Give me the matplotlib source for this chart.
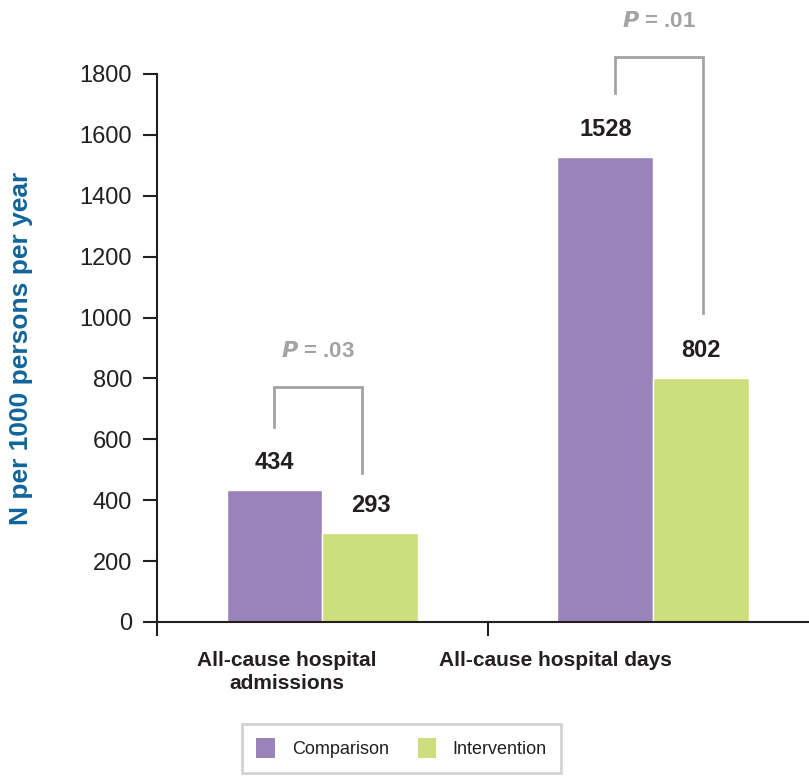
import numpy as np
import matplotlib
matplotlib.use('Agg')
import matplotlib.pyplot as plt
from matplotlib.patches import Patch

plt.rcParams['font.family'] = ['Liberation Sans', 'DejaVu Sans']

categories = ['All-cause hospital\nadmissions', 'All-cause hospital days']
series = ['Comparison', 'Intervention']
comparison = [434, 1528]
intervention = [293, 802]
p_labels = ['.03', '.01']
yticks = [0, 200, 400, 600, 800, 1000, 1200, 1400, 1600, 1800]

purple = '#9a82bb'
green = '#cddf7c'
gray = '#a3a3a3'
dark = '#231f20'
blue = '#11659b'

fig = plt.figure(figsize=(8.09, 7.77), dpi=100)
ax = fig.add_axes([157 / 809, 1 - 622 / 777, 1 - 157 / 809, (622 - 74) / 777])

x = np.arange(len(categories))
w = 0.29
ax.bar(x - w / 2, comparison, w, color=purple, edgecolor='white', linewidth=1)
ax.bar(x + w / 2, intervention, w, color=green, edgecolor='white', linewidth=1)

ax.set_ylim(0, 1800)
ax.set_xlim(-0.5, 1.47)
ax.set_yticks(yticks)
ax.set_yticklabels([str(t) for t in yticks], fontsize=17, color=dark)
ax.set_xticks([-0.5, 0.5])
ax.set_xticklabels([])
ax.tick_params(axis='both', direction='out', length=10, width=1.5, color=dark)
ax.tick_params(axis='y', pad=8)
for s in ['top', 'right']:
    ax.spines[s].set_visible(False)
for s in ['left', 'bottom']:
    ax.spines[s].set_linewidth(1.5)
    ax.spines[s].set_color(dark)

ax.set_ylabel('N per 1000 persons per year', fontsize=19, fontweight='bold', color=blue)
ax.yaxis.set_label_coords(-0.19, 0.5)

# value labels
for i in range(len(categories)):
    ax.text(x[i] - w / 2, comparison[i] + 90, str(comparison[i]), ha='center', va='center',
            fontsize=17, fontweight='bold', color=dark)
    ax.text(x[i] + w / 2, intervention[i] + 90, str(intervention[i]), ha='center', va='center',
            fontsize=17, fontweight='bold', color=dark)

# significance brackets
brackets = [(-0.147, 0.119, 641, 490, 772), (0.884, 1.15, 1738, 1015, 1856)]
for (xl, xr, yl, yr, yt), p in zip(brackets, p_labels):
    ax.plot([xl, xl, xr, xr], [yl, yt, yt, yr], color=gray, lw=2, clip_on=False,
            solid_joinstyle='miter')
    ax.text((xl + xr) / 2, yt + 115, r'$\mathbfit{P}$' + ' = ' + p, ha='center', va='center',
            fontsize=16, fontweight='bold', color=gray)

# category labels
label_x = [-0.107, 0.705]
for lx, c in zip(label_x, categories):
    ax.text(lx, -95, c, ha='center', va='top', fontsize=15, fontweight='bold',
            color=dark, linespacing=1.3, clip_on=False)

handles = [Patch(facecolor=purple, label=series[0]), Patch(facecolor=green, label=series[1])]
leg = fig.legend(handles=handles, loc='upper left', bbox_to_anchor=(242 / 809, 1 - 724 / 777),
                 ncol=2, fontsize=13, frameon=True, fancybox=False, edgecolor='#c8c8c8',
                 handlelength=1.0, handleheight=1.3, handletextpad=0.95, columnspacing=1.6,
                 borderpad=0.8, borderaxespad=0)
leg.get_frame().set_linewidth(2)
for t in leg.get_texts():
    t.set_color(dark)

fig.savefig('out.png', dpi=100)
